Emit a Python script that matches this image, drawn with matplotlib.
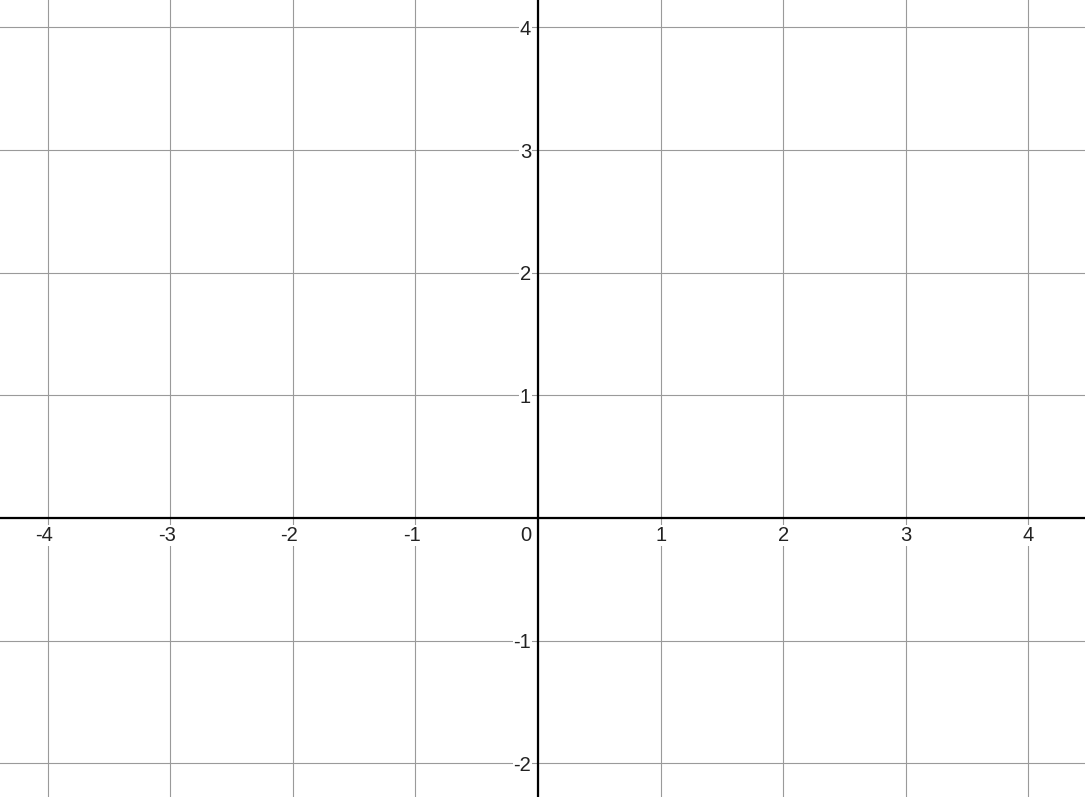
import matplotlib
matplotlib.use("Agg")
import matplotlib.pyplot as plt
import matplotlib.transforms as mtransforms

# visible window of the graph
x_range = [-4.388, 4.462]
y_range = [-2.275, 4.223]

x_ticks = [-4, -3, -2, -1, 1, 2, 3, 4]
x_labels = ["-4", "-3", "-2", "-1", "1", "2", "3", "4"]
y_ticks = [-2, -1, 1, 2, 3, 4]
y_labels = ["-2", "-1", "1", "2", "3", "4"]

GRID = "#9a9a9a"
FONT = "Liberation Sans"
FS = 14.5

fig = plt.figure(figsize=(10.85, 7.97), dpi=100)
ax = fig.add_axes([0, 0, 1, 1])
ax.set_xlim(x_range)
ax.set_ylim(y_range)
ax.axis("off")

# grid lines
for v in range(-5, 6):
    ax.axvline(v, color=GRID, lw=0.8, zorder=1)
    ax.axhline(v, color=GRID, lw=0.8, zorder=1)

# main axes
ax.axhline(0, color="black", lw=1.6, zorder=3)
ax.axvline(0, color="black", lw=1.6, zorder=3)

box = dict(facecolor="white", edgecolor="none", pad=0.5)

# x labels below the axis, digit centred on its grid line
for v, lab in zip(x_ticks, x_labels):
    shift = -3.5 if lab.startswith("-") else 0
    tr = ax.transData + mtransforms.ScaledTranslation(shift / 100, -8 / 100, fig.dpi_scale_trans)
    ax.text(v, 0, lab, transform=tr, ha="center", va="top", fontsize=FS,
            family=FONT, color="#222222", bbox=box, zorder=4)

# y labels left of the axis
for v, lab in zip(y_ticks, y_labels):
    tr = ax.transData + mtransforms.ScaledTranslation(-7 / 100, 0, fig.dpi_scale_trans)
    ax.text(0, v, lab, transform=tr, ha="right", va="center_baseline", fontsize=FS,
            family=FONT, color="#222222", bbox=box, zorder=4)

# origin label
tr = ax.transData + mtransforms.ScaledTranslation(-7 / 100, -8 / 100, fig.dpi_scale_trans)
ax.text(0, 0, "0", transform=tr, ha="right", va="top", fontsize=FS,
        family=FONT, color="#222222", zorder=4)

fig.savefig("out.png", dpi=100, facecolor="white")
